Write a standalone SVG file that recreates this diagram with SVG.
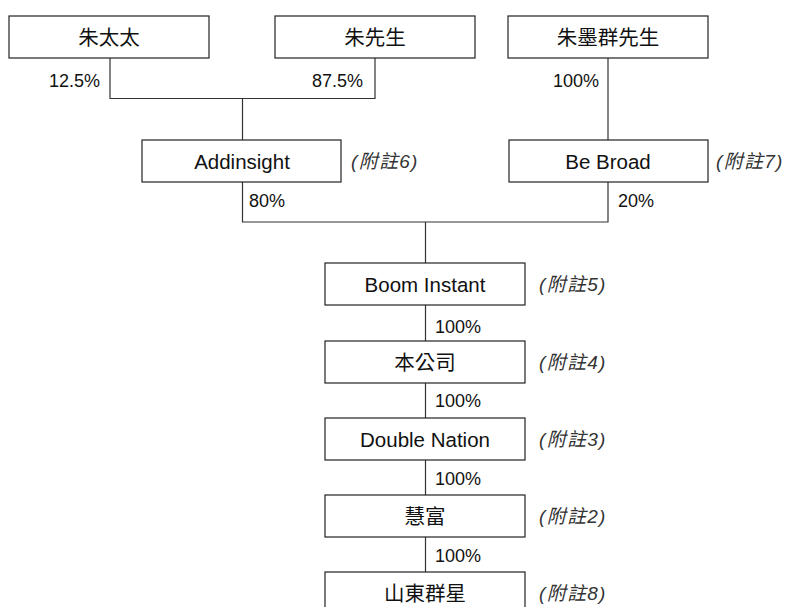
<svg xmlns="http://www.w3.org/2000/svg" width="788" height="607" viewBox="0 0 788 607">
<style>
.box{fill:#fff;stroke:#222;stroke-width:1.2}
.t{font-family:"Liberation Sans","Noto Sans CJK TC",sans-serif;font-size:20.5px;fill:#111;text-anchor:middle;dominant-baseline:central}
.p{font-family:"Liberation Sans",sans-serif;font-size:18px;fill:#111}
.n{font-family:"Liberation Sans","Noto Sans CJK TC",sans-serif;font-size:19px;font-style:italic;fill:#333;dominant-baseline:central;letter-spacing:1.3px}
.c{fill:none;stroke:#333;stroke-width:1.2}
</style>
<rect width="788" height="607" fill="#fff"/>
<g id="connectors">
<path class="c" d="M110,58V98.5H375V58M242.5,98.5V140"/>
<path class="c" d="M608,58V140"/>
<path class="c" d="M242.5,182V222H608V182M425.5,222V263"/>
<path class="c" d="M425.5,305V341M425.5,383V418M425.5,460V495M425.5,537V572"/>
</g>
<g id="n1"><rect class="box" x="9" y="16" width="200" height="42"/><text class="t" x="109" y="37">朱太太</text></g>
<g id="n2"><rect class="box" x="275" y="16" width="200" height="42"/><text class="t" x="375" y="37">朱先生</text></g>
<g id="n3"><rect class="box" x="508" y="16" width="200" height="42"/><text class="t" x="608" y="37">朱墨群先生</text></g>
<g id="n4"><rect class="box" x="142" y="140" width="199" height="42"/><text class="t" x="242" y="161">Addinsight</text></g>
<g id="n5"><rect class="box" x="509" y="140" width="199" height="42"/><text class="t" x="608" y="161">Be Broad</text></g>
<g id="n6"><rect class="box" x="325" y="263" width="200" height="42"/><text class="t" x="425" y="284">Boom Instant</text></g>
<g id="n7"><rect class="box" x="325" y="341" width="200" height="42"/><text class="t" x="425" y="362">本公司</text></g>
<g id="n8"><rect class="box" x="325" y="418" width="200" height="42"/><text class="t" x="425" y="439">Double Nation</text></g>
<g id="n9"><rect class="box" x="325" y="495" width="200" height="42"/><text class="t" x="425" y="516">慧富</text></g>
<g id="n10"><rect class="box" x="325" y="572" width="200" height="42"/><text class="t" x="425" y="593">山東群星</text></g>
<g id="labels">
<text class="p" x="100" y="86.5" text-anchor="end">12.5%</text>
<text class="p" x="363" y="86.5" text-anchor="end">87.5%</text>
<text class="p" x="599" y="86.5" text-anchor="end">100%</text>
<text class="p" x="249" y="207">80%</text>
<text class="p" x="618" y="207">20%</text>
<text class="p" x="435" y="333">100%</text>
<text class="p" x="435" y="407">100%</text>
<text class="p" x="435" y="485">100%</text>
<text class="p" x="435" y="562">100%</text>
</g>
<g id="notes">
<text class="n" x="351" y="161">(附註6)</text>
<text class="n" x="716" y="161">(附註7)</text>
<text class="n" x="539" y="284">(附註5)</text>
<text class="n" x="539" y="362">(附註4)</text>
<text class="n" x="539" y="439">(附註3)</text>
<text class="n" x="539" y="516">(附註2)</text>
<text class="n" x="539" y="593">(附註8)</text>
</g>
</svg>
